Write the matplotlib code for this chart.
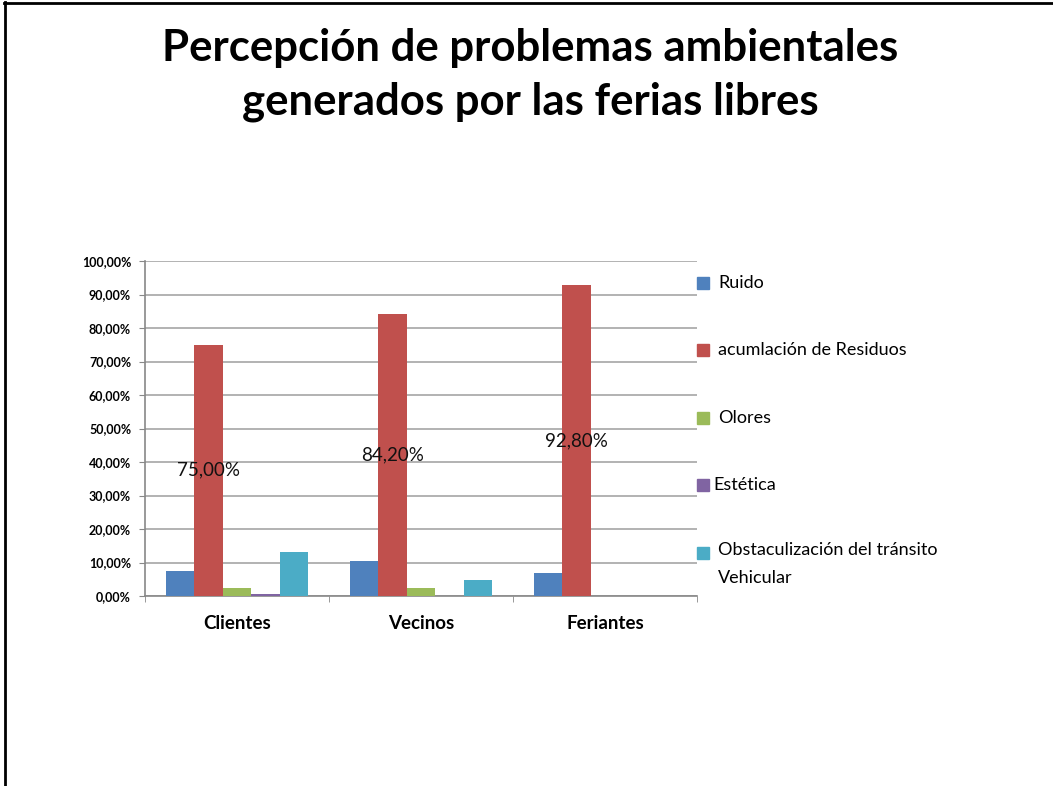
import numpy as np
import matplotlib.pyplot as plt
from matplotlib.lines import Line2D
from matplotlib.patches import Rectangle

plt.rcParams['font.family'] = ['Lato', 'DejaVu Sans']

grupos = ["Clientes", "Vecinos", "Feriantes"]
series = ["Ruido", "acumlación de Residuos", "Olores", "Estética",
          "Obstaculización del tránsito\nVehicular"]
ruido = [7.5, 10.3, 7.0]
residuos = [75.0, 84.2, 92.8]
olores = [2.4, 2.4, 0.0]
estetica = [0.7, 0.0, 0.0]
obstaculizacion = [13.2, 4.9, 0.0]
etiquetas = ["75,00%", "84,20%", "92,80%"]
colores = ["#4F81BD", "#C0504D", "#9BBB59", "#8064A2", "#4BACC6"]

valores = [ruido, residuos, olores, estetica, obstaculizacion]

fig = plt.figure(figsize=(10.53, 7.86), dpi=100)
ax = fig.add_axes([145 / 1053, 1 - 596 / 786, 552 / 1053, 335 / 786])

x = np.arange(len(grupos))
w = 0.155
for i, (vals, c) in enumerate(zip(valores, colores)):
    ax.bar(x + (i - 2) * w, vals, width=w, color=c, zorder=3)

# etiquetas de datos en el centro de las barras rojas
for xi, v, t in zip(x, residuos, etiquetas):
    ax.text(xi - w, v / 2, t, ha='center', va='center', fontsize=13.5,
            color='#111111', zorder=4)

ax.set_xlim(-0.5, 2.5)
ax.set_ylim(0, 100)
ax.set_yticks(np.arange(0, 101, 10))
ax.set_yticklabels([f"{v},00%" for v in range(0, 101, 10)],
                   fontsize=9, fontweight='bold')
ax.set_xticks(x)
ax.set_xticklabels(grupos, fontsize=13.5, fontweight='bold')
ax.set_xticks([-0.5, 0.5, 1.5, 2.5], minor=True)
ax.tick_params(axis='x', which='major', length=0, pad=14)
ax.tick_params(axis='x', which='minor', length=4, color='#888888')
ax.tick_params(axis='y', length=4, color='#888888', pad=6)
ax.grid(axis='y', color='#A6A6A6', linewidth=1.2, zorder=0)
for s in ['top', 'right']:
    ax.spines[s].set_visible(False)
for s in ['left', 'bottom']:
    ax.spines[s].set_color('#888888')
    ax.spines[s].set_linewidth(1.2)

# leyenda
ys = [283, 350, 418, 485, 553]
for i, (lab, c, yy) in enumerate(zip(series, colores, ys)):
    fig.patches.append(Rectangle((697 / 1053, 1 - (yy + 6) / 786), 12 / 1053, 12 / 786,
                                 transform=fig.transFigure, color=c))
    tx = 713 if i == 3 else 718
    fig.text(tx / 1053, 1 - yy / 786, lab, ha='left', va='center',
             fontsize=13, linespacing=1.95)

fig.texts[-1].set_va('top')
fig.texts[-1].set_position((718 / 1053, 1 - (553 - 11) / 786))

fig.text(530 / 1053, 1 - 75 / 786,
         "Percepción de problemas ambientales\ngenerados por las ferias libres",
         ha='center', va='center', fontsize=31.5, fontweight='bold', linespacing=1.43)

# marco
fig.add_artist(Line2D([4.5 / 1053, 4.5 / 1053], [0, 1 - 2 / 786], color='black', lw=2))
fig.add_artist(Line2D([4 / 1053, 1], [1 - 2.5 / 786, 1 - 2.5 / 786], color='black', lw=2))

fig.savefig("out.png", dpi=100)
